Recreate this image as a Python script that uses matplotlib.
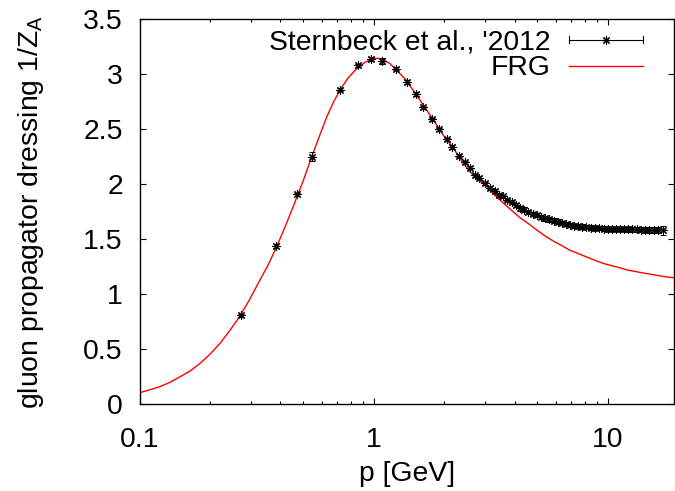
import numpy as np
import matplotlib
matplotlib.use("Agg")
from matplotlib import pyplot as plt
from matplotlib.lines import Line2D
from matplotlib.legend_handler import HandlerBase

plt.rcParams["font.family"] = ["Liberation Sans", "DejaVu Sans"]
plt.rcParams["mathtext.fontset"] = "custom"
plt.rcParams["mathtext.rm"] = "Liberation Sans"
plt.rcParams["font.size"] = 20.4

# lattice data (Sternbeck et al. 2012)
lat_p = [0.271, 0.382, 0.470, 0.544, 0.720, 0.860, 0.978, 1.083, 1.250, 1.384,
         1.513, 1.630, 1.780, 1.910, 2.050, 2.170, 2.310, 2.460, 2.590, 2.720,
         2.830, 3.000, 3.140, 3.290, 3.450, 3.580, 3.720, 3.890, 4.050, 4.220,
         4.400, 4.580, 4.780, 4.980, 5.200, 5.410, 5.640, 5.870, 6.120, 6.370,
         6.630, 6.900, 7.200, 7.500, 7.800, 8.100, 8.450, 8.800, 9.200, 9.600,
         10.00, 10.40, 10.85, 11.30, 11.75, 12.20, 12.75, 13.30, 13.85, 14.40,
         15.00, 15.70, 16.40, 17.20]
lat_z = [0.81, 1.44, 1.91, 2.25, 2.86, 3.08, 3.14, 3.12, 3.05, 2.93,
         2.82, 2.70, 2.59, 2.50, 2.41, 2.34, 2.26, 2.20, 2.15, 2.08,
         2.06, 2.01, 1.97, 1.94, 1.90, 1.89, 1.86, 1.84, 1.81, 1.78,
         1.77, 1.75, 1.73, 1.72, 1.70, 1.69, 1.68, 1.67, 1.66, 1.65,
         1.64, 1.63, 1.62, 1.62, 1.615, 1.613, 1.607, 1.603, 1.600, 1.597,
         1.595, 1.594, 1.594, 1.594, 1.592, 1.590, 1.590, 1.590, 1.588, 1.587,
         1.586, 1.585, 1.583, 1.580]
lat_err = [0.015, 0.015, 0.015, 0.04, 0.015, 0.015, 0.015, 0.03, 0.015, 0.015,
           0.015, 0.015, 0.015, 0.015, 0.015, 0.015, 0.015, 0.015, 0.015, 0.015,
           0.015, 0.015, 0.015, 0.015, 0.015, 0.015, 0.015, 0.015, 0.02, 0.02,
           0.02, 0.02, 0.02, 0.02, 0.02, 0.02, 0.02, 0.02, 0.02, 0.02,
           0.02, 0.02, 0.02, 0.02, 0.02, 0.02, 0.02, 0.02, 0.02, 0.02,
           0.02, 0.02, 0.02, 0.02, 0.02, 0.02, 0.025, 0.025, 0.025, 0.025,
           0.025, 0.025, 0.03, 0.04]

# FRG result
frg_p = [0.100, 0.110, 0.122, 0.135, 0.149, 0.165, 0.181, 0.200, 0.221, 0.243,
         0.268, 0.295, 0.327, 0.355, 0.385, 0.420, 0.454, 0.500, 0.544, 0.585,
         0.630, 0.675, 0.720, 0.780, 0.846, 0.920, 0.999, 1.050, 1.100, 1.170,
         1.250, 1.360, 1.470, 1.620, 1.800, 1.980, 2.190, 2.380, 2.580, 2.800,
         3.040, 3.300, 3.580, 3.900, 4.200, 4.600, 4.980, 5.400, 5.900, 6.400,
         6.900, 7.500, 8.100, 8.800, 9.600, 10.40, 11.30, 12.20, 13.30, 14.50,
         16.00, 17.50, 19.20]
frg_z = [0.105, 0.130, 0.160, 0.200, 0.250, 0.305, 0.370, 0.455, 0.555, 0.670,
         0.800, 0.950, 1.130, 1.270, 1.430, 1.620, 1.800, 2.030, 2.250, 2.430,
         2.610, 2.750, 2.860, 2.970, 3.050, 3.110, 3.145, 3.145, 3.130, 3.100,
         3.040, 2.960, 2.860, 2.730, 2.585, 2.450, 2.330, 2.210, 2.115, 2.040,
         1.980, 1.900, 1.830, 1.760, 1.700, 1.640, 1.585, 1.530, 1.480, 1.440,
         1.400, 1.370, 1.340, 1.310, 1.280, 1.260, 1.240, 1.220, 1.205, 1.190,
         1.175, 1.160, 1.150]

ASTERISK = (8, 2, 0)


class HorizontalErrorHandler(HandlerBase):
    # gnuplot style key sample: horizontal bar with end caps and the point
    def create_artists(self, legend, orig_handle, xdescent, ydescent,
                       width, height, fontsize, trans):
        y = height / 2 - ydescent
        x0, x1 = -xdescent, width - xdescent
        cap = 0.13 * fontsize
        arts = [Line2D([x0, x1], [y, y], color="k", lw=0.8),
                Line2D([x0, x0], [y - cap, y + cap], color="k", lw=0.8),
                Line2D([x1, x1], [y - cap, y + cap], color="k", lw=0.8),
                Line2D([(x0 + x1) / 2], [y], color="k", marker=ASTERISK,
                       ms=6, mew=0.8, ls="none")]
        for a in arts:
            a.set_transform(trans)
        return arts


fig = plt.figure(figsize=(6.75, 4.91), dpi=100)
ax = fig.add_axes([0.2067, 0.1766, 0.7918, 0.7841])

ax.plot(frg_p, frg_z, color="r", lw=1, zorder=2)
ax.errorbar(lat_p, lat_z, yerr=lat_err, fmt="none", ecolor="k",
            elinewidth=0.7, capsize=2.5, capthick=0.7, zorder=3)
ax.plot(lat_p, lat_z, ls="none", marker=ASTERISK, ms=6, mew=0.8,
        color="k", zorder=4)

ax.set_xscale("log")
ax.set_xlim(0.1, 19.2)
ax.set_ylim(0, 3.5)
ax.set_yticks(np.arange(0, 3.51, 0.5))
ax.set_yticklabels(["0", "0.5", "1", "1.5", "2", "2.5", "3", "3.5"])
ax.set_xticks([0.1, 1, 10])
ax.set_xticklabels(["0.1", "1", "10"])
ax.tick_params(which="both", direction="in", top=True, right=True)
ax.tick_params(which="major", length=4.5, width=0.8)
ax.tick_params(which="minor", length=2.3, width=0.8)
ax.tick_params(axis="x", which="major", pad=16)
ax.tick_params(axis="y", which="major", pad=12)
for s in ax.spines.values():
    s.set_linewidth(1)

ax.set_xlabel("p [GeV]", labelpad=6)
ax.set_ylabel(r"gluon propagator dressing 1/Z$_\mathregular{A}$", labelpad=27)

handles = [Line2D([], [], color="k"), Line2D([], [], color="r", lw=1)]
leg = ax.legend(handles, ["Sternbeck et al., '2012", "FRG"],
                handler_map={handles[0]: HorizontalErrorHandler()},
                loc="upper right", frameon=False, markerfirst=False,
                handlelength=2.6, handletextpad=0.65, labelspacing=0.0,
                borderaxespad=0.0, bbox_to_anchor=(0.963, 1.003))

fig.savefig("out.png", dpi=100)
